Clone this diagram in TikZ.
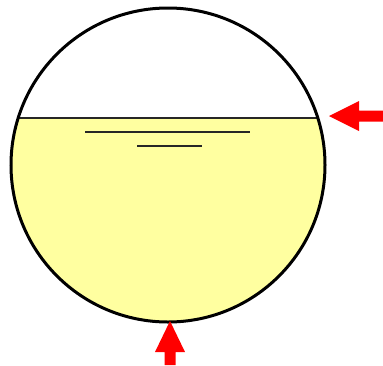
\documentclass[tikz,border=0pt]{standalone}
\definecolor{liquid}{RGB}{255,255,160}
\tikzset{
  vessel/.style={draw=black,line width=3pt},
  level/.style={draw=black!85,line width=1.5pt},
  redarrow/.style={fill=red,draw=none}
}
\begin{document}
\begin{tikzpicture}[x=1pt,y=-1pt]
\useasboundingbox (0,0) rectangle (383,365);
\coordinate (c) at (168,165);
% liquid
\begin{scope}
  \clip (c) circle (157);
  \fill[liquid] (0,118) rectangle (383,340);
\end{scope}
% liquid surface
\draw[level] (18,118) -- (318,118);
\draw[level] (85,132) -- (250,132);
\draw[level] (137,146) -- (202,146);
% vessel
\draw[vessel] (c) circle (157);
% right arrow (pointing left)
\coordinate (rt) at (329,116);
\fill[redarrow] (rt) -- (359,101) -- (359,110.5) -- (383,110.5) -- (383,121.5) -- (359,121.5) -- (359,131) -- cycle;
% bottom arrow (pointing up)
\coordinate (bt) at (170,321);
\fill[redarrow] (bt) -- (185,352) -- (175.5,352) -- (175.5,365) -- (164.5,365) -- (164.5,352) -- (155,352) -- cycle;
\end{tikzpicture}
\end{document}
